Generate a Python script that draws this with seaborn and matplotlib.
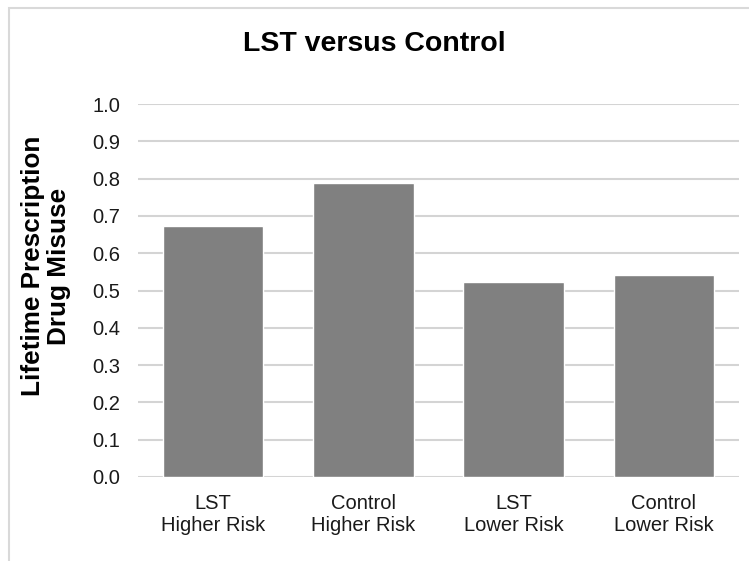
import matplotlib
matplotlib.use('Agg')
import matplotlib.pyplot as plt
import seaborn as sns
import pandas as pd
from matplotlib.patches import Rectangle

# values
groups = ['LST\nHigher Risk', 'Control\nHigher Risk', 'LST\nLower Risk', 'Control\nLower Risk']
misuse = [0.673, 0.787, 0.524, 0.542]
y_ticks = [0.0, 0.1, 0.2, 0.3, 0.4, 0.5, 0.6, 0.7, 0.8, 0.9, 1.0]

data = pd.DataFrame({'Group': groups, 'Misuse': misuse})

sns.set_style('white')
plt.rcParams['font.family'] = ['Liberation Sans', 'DejaVu Sans']

W, H = 749, 561
fig = plt.figure(figsize=(W / 100, H / 100), dpi=100)
ax = fig.add_axes([138 / W, 1 - 477 / H, (739 - 138) / W, (477 - 104) / H])

sns.barplot(data=data, x='Group', y='Misuse', color='#808080', saturation=1,
            width=0.67, ax=ax, zorder=3)

ax.set_ylim(0, 1.0)
ax.set_xlim(-0.5, 3.5)
ax.set_yticks(y_ticks)
ax.set_yticklabels([f'{v:.1f}' for v in y_ticks])
ax.yaxis.grid(True, color='#d4d4d4', linewidth=1.5, zorder=0)
ax.set_axisbelow(True)
for s in ax.spines.values():
    s.set_visible(False)
ax.tick_params(axis='y', length=0, pad=13, labelsize=14.5, colors='#1a1a1a')
ax.tick_params(axis='x', length=0, pad=12, labelsize=14.5, colors='#1a1a1a')
ax.set_xlabel('')
ax.set_ylabel('')

fig.text(374 / W, 1 - 44 / H, 'LST versus Control', ha='center', va='center',
         fontsize=20.5, fontweight='bold', color='#000000')
fig.text(46 / W, 1 - 266 / H, 'Lifetime Prescription\nDrug Misuse', rotation=90,
         ha='center', va='center', multialignment='center', fontsize=18.8,
         fontweight='bold', color='#000000', linespacing=1.1)

# light chart-area border (left and top edges visible)
fig.patches.append(Rectangle((9 / W, -0.05), 1.1, 1 - 8 / H + 0.05,
                             transform=fig.transFigure, fill=False,
                             edgecolor='#d9d9d9', linewidth=1.5))

fig.savefig('out.png', dpi=100)
